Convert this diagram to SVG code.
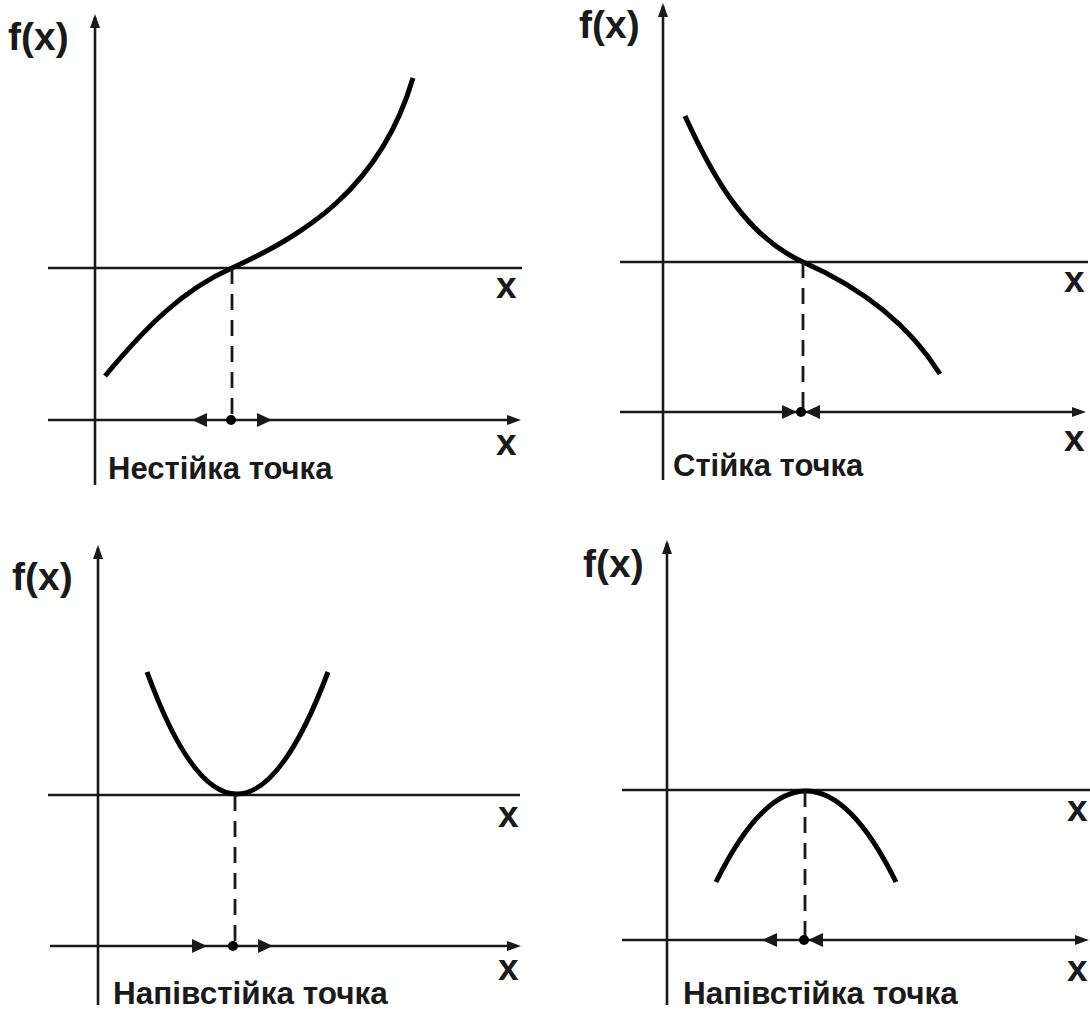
<svg xmlns="http://www.w3.org/2000/svg" width="1090" height="1009" viewBox="0 0 1090 1009">
<defs>
<style>
.ax{stroke:#1a1a1a;stroke-width:2.6;fill:none}
.cv{stroke:#000;stroke-width:5;fill:none;stroke-linecap:butt}
.ds{stroke:#1a1a1a;stroke-width:2.8;stroke-dasharray:16 10;fill:none}
.ah{fill:#1a1a1a}
.fx{font-family:"Liberation Sans",Arial,sans-serif;font-weight:bold;font-size:39px;fill:#1a1a1a}
.xl{font-family:"Liberation Sans",Arial,sans-serif;font-weight:bold;font-size:37px;fill:#1a1a1a}
.lb{font-family:"Liberation Sans",Arial,sans-serif;font-weight:bold;font-size:31px;fill:#1a1a1a}
.lb2{font-family:"Liberation Sans",Arial,sans-serif;font-weight:bold;font-size:31.5px;fill:#1a1a1a}
</style>
</defs>
<rect width="1090" height="1009" fill="#fff"/>

<g id="panel1">
<g id="p1-axes">
<line class="ax" x1="95" y1="485" x2="95" y2="17"/>
<path class="ah" d="M95,14 L90,28 L100,28 Z"/>
<line class="ax" x1="48" y1="268" x2="522" y2="268"/>
<line class="ax" x1="48" y1="420" x2="510" y2="420"/>
<path class="ah" d="M521,420 L507,415 L507,425 Z"/>
</g>
<text class="fx" x="8" y="50">f(x)</text>
<text class="xl" x="496" y="298">x</text>
<text class="xl" x="496" y="455">x</text>
<path class="cv" d="M105,376 C145,328 182,290 232,268 C302,236 380,190 413,78"/>
<line class="ds" x1="232" y1="268" x2="232" y2="420"/>
<circle cx="231" cy="420" r="5" fill="#000"/>
<path class="ah" d="M192,420 L207,413 L207,427 Z"/>
<path class="ah" d="M272,420 L257,413 L257,427 Z"/>
<text class="lb" x="108" y="479">Нестійка точка</text>
</g>

<g id="panel2">
<g id="p2-axes">
<line class="ax" x1="663" y1="480" x2="663" y2="6"/>
<path class="ah" d="M663,3 L658,17 L668,17 Z"/>
<line class="ax" x1="620" y1="262" x2="1088" y2="262"/>
<line class="ax" x1="620" y1="412" x2="1075" y2="412"/>
<path class="ah" d="M1086,412 L1072,407 L1072,417 Z"/>
</g>
<text class="fx" x="579" y="38">f(x)</text>
<text class="xl" x="1064" y="292">x</text>
<text class="xl" x="1064" y="451">x</text>
<path class="cv" d="M685,116 C715,182 748,237 803,262 C853,284 905,318 940,374"/>
<line class="ds" x1="803" y1="262" x2="803" y2="412"/>
<circle cx="801" cy="412" r="5" fill="#000"/>
<path class="ah" d="M797,412 L782,405 L782,419 Z"/>
<path class="ah" d="M805,412 L820,405 L820,419 Z"/>
<text class="lb" x="673" y="476">Стійка точка</text>
</g>

<g id="panel3">
<g id="p3-axes">
<line class="ax" x1="98" y1="1005" x2="98" y2="548"/>
<path class="ah" d="M98,545 L93,559 L103,559 Z"/>
<line class="ax" x1="48" y1="795" x2="520" y2="795"/>
<line class="ax" x1="50" y1="946" x2="510" y2="946"/>
<path class="ah" d="M521,946 L507,941 L507,951 Z"/>
</g>
<text class="fx" x="12" y="590">f(x)</text>
<text class="xl" x="498" y="827">x</text>
<text class="xl" x="498" y="980">x</text>
<path class="cv" d="M147,672 Q236,916 328,672"/>
<line class="ds" x1="235" y1="795" x2="235" y2="946"/>
<circle cx="233" cy="946" r="5" fill="#000"/>
<path class="ah" d="M207,946 L192,939 L192,953 Z"/>
<path class="ah" d="M273,946 L258,939 L258,953 Z"/>
<text class="lb2" x="113" y="1004">Напівстійка точка</text>
</g>

<g id="panel4">
<g id="p4-axes">
<line class="ax" x1="667" y1="1005" x2="667" y2="543"/>
<path class="ah" d="M667,540 L662,554 L672,554 Z"/>
<line class="ax" x1="622" y1="790" x2="1090" y2="790"/>
<line class="ax" x1="622" y1="940" x2="1078" y2="940"/>
<path class="ah" d="M1089,940 L1075,935 L1075,945 Z"/>
</g>
<text class="fx" x="583" y="577">f(x)</text>
<text class="xl" x="1067" y="821">x</text>
<text class="xl" x="1067" y="981">x</text>
<path class="cv" d="M716,882 Q806,700 896,882"/>
<line class="ds" x1="805" y1="791" x2="805" y2="940"/>
<circle cx="804" cy="940" r="5" fill="#000"/>
<path class="ah" d="M762,940 L777,933 L777,947 Z"/>
<path class="ah" d="M808,940 L823,933 L823,947 Z"/>
<text class="lb2" x="683" y="1004">Напівстійка точка</text>
</g>
</svg>
